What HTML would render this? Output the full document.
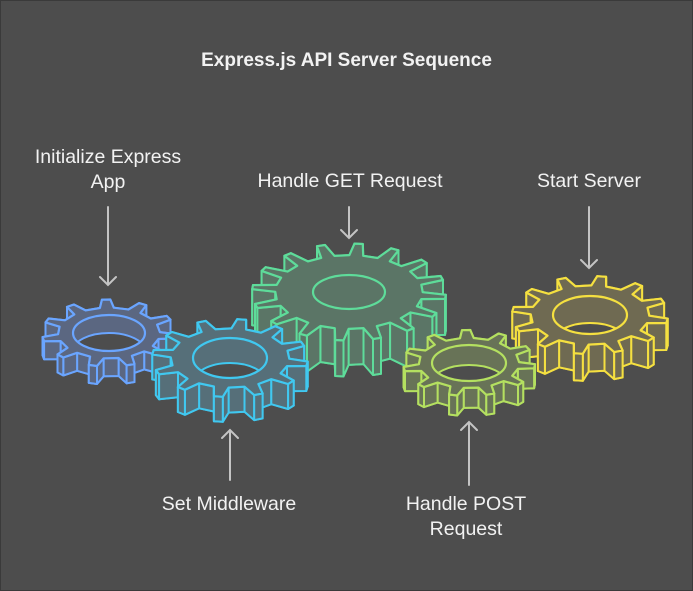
<!DOCTYPE html>
<html><head><meta charset="utf-8"><style>
html,body{margin:0;padding:0;background:#4d4d4d;}
body{width:693px;height:591px;overflow:hidden;position:relative;font-family:"Liberation Sans",sans-serif;}
.frame{position:absolute;left:0;top:0;width:691px;height:589px;border:1px solid #3a3a3a;}
.t{position:absolute;color:#f2f2f2;font-size:19.5px;text-align:center;line-height:25px;}
</style></head><body>
<div class="frame"></div>
<svg id="s" width="693" height="591" style="position:absolute;left:0;top:0">
<defs></defs>
<g id="g"></g>
<g stroke="#c4c4c4" stroke-width="2" fill="none" stroke-linecap="round">
<path d="M108 207V285M100 277l8 8 8-8"/>
<path d="M349 207V238M341 230l8 8 8-8"/>
<path d="M589 207V268M581 260l8 8 8-8"/>
<path d="M230 480V430M222 438l8-8 8 8"/>
<path d="M469 485V422M461 430l8-8 8 8"/>
</g>
</svg>
<div class="t" style="left:-42px;width:300px;top:145px;">Initialize Express<br>App</div>
<div class="t" style="left:0;width:693px;top:48px;font-weight:bold;font-size:19px;">Express.js API Server Sequence</div>
<div class="t" style="left:200px;width:300px;top:169px;">Handle GET Request</div>
<div class="t" style="left:489px;width:200px;top:169px;">Start Server</div>
<div class="t" style="left:129px;width:200px;top:492px;">Set Middleware</div>
<div class="t" style="left:366px;width:200px;top:492px;">Handle POST<br>Request</div>
<script>
const NS="http://www.w3.org/2000/svg";
const G=document.getElementById('g'),D=document.querySelector('defs');
let cid=0;
function el(t,a,p){const e=document.createElementNS(NS,t);for(const k in a)e.setAttribute(k,a[k]);(p||G).appendChild(e);return e;}
function gear(cx,cy,rx,k,depth,n,hrx,hry,stroke,fill,rot){
  const ry=rx*k,r0=0.76;const pts=[];
  for(let i=0;i<n;i++){const a=2*Math.PI*i/n+(rot||0),p=2*Math.PI/n;
    const fr=[[-0.24*p,r0],[-0.11*p,1],[0.11*p,1],[0.24*p,r0]];
    for(const [da,r] of fr){const t=a+da;pts.push([cx+rx*r*Math.cos(t),cy+ry*r*Math.sin(t)]);}
  }
  const ps=a=>a.map(p=>p[0].toFixed(1)+','+p[1].toFixed(1)).join(' ');
  const bot=pts.map(p=>[p[0],p[1]+depth]);
  el('polygon',{points:ps(bot),fill:fill,stroke:stroke,'stroke-width':2,'stroke-linejoin':'round'});
  const quads=[];
  for(let i=0;i<pts.length;i++){const a=pts[i],b=pts[(i+1)%pts.length];quads.push([a,b,(a[1]+b[1])/2]);}
  quads.sort((x,y)=>x[2]-y[2]);
  for(const [a,b] of quads){el('polygon',{points:ps([a,b,[b[0],b[1]+depth],[a[0],a[1]+depth]]),fill:fill,stroke:stroke,'stroke-width':2,'stroke-linejoin':'round'});}
  el('polygon',{points:ps(pts),fill:fill,stroke:stroke,'stroke-width':2.2,'stroke-linejoin':'round'});
  const id='c'+(cid++);const cp=el('clipPath',{id:id},D);el('ellipse',{cx:cx,cy:cy,rx:hrx,ry:hry},cp);
  const gg=el('g',{'clip-path':'url(#'+id+')'});
  el('ellipse',{cx:cx,cy:cy+depth,rx:hrx,ry:hry,fill:'#4d4d4d',stroke:stroke,'stroke-width':2},gg);
  el('ellipse',{cx:cx,cy:cy,rx:hrx,ry:hry,fill:'none',stroke:stroke,'stroke-width':2.2});
}
gear(349,292,97,0.5,36,16,36,17,'#5edc9a','#5b7566',0.1);
gear(109,333,67,0.5,18,11,36,18,'#6aa5ff','#5b6781',0.1);
gear(230,358,78,0.5,25,12,37,20,'#40c8f0','#566f79',0.15);
gear(590,315,78,0.5,27,12,37,19,'#f5e040','#6f6a52',0.15);
gear(469,363,66,0.5,20,11,37,18,'#b4e060','#687357',0.1);
</script>
</body></html>
